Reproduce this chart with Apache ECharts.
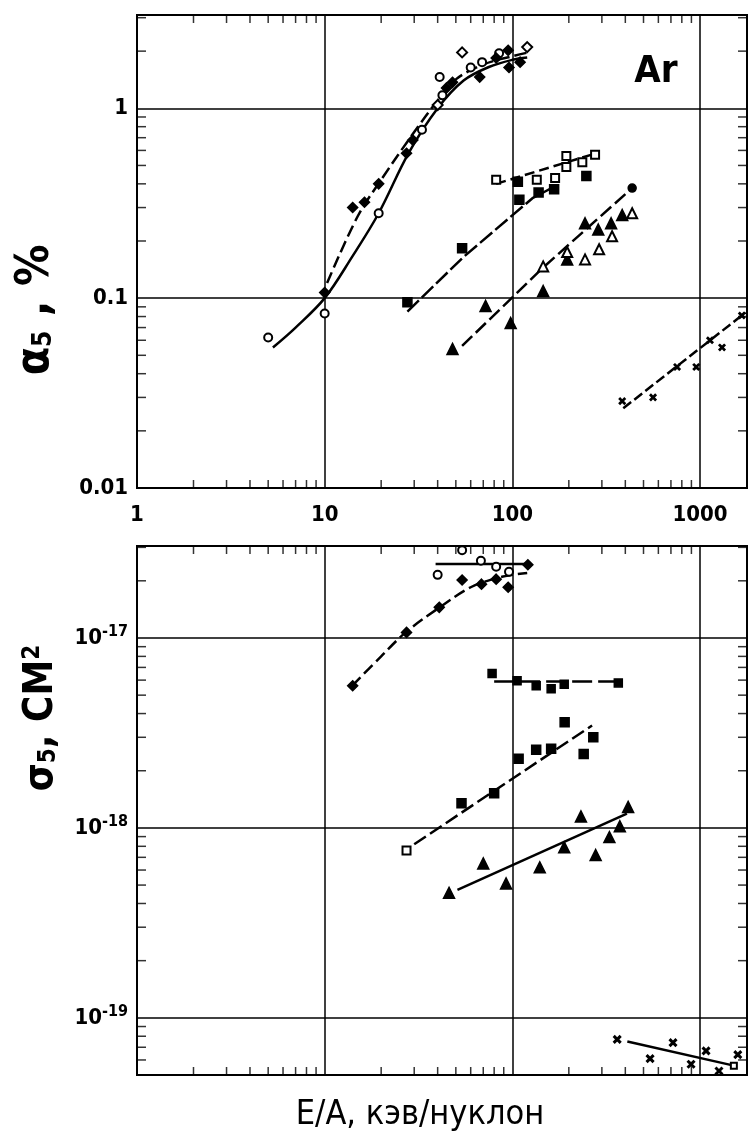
<!DOCTYPE html>
<html lang="ru">
<head>
<meta charset="UTF-8">
<title>Ar: α5 и σ5</title>
<script src="https://cdn.jsdelivr.net/npm/echarts@6/dist/echarts.min.js"></script>
</head>
<body style="margin:0;background:#fff">
<div id="main" style="width:751px;height:1143px"></div>
<script type="text/javascript">
    // ---- data (E/A in keV/nucleon) ----
    // upper panel: alpha5, %
    var aOpenCircle = [[5, 0.062], [10, 0.083], [19.4, 0.28], [33, 0.77], [42.4, 1.17], [41, 1.46], [60, 1.64], [69, 1.75], [85, 1.95]];
    var aFilledDia = [[10, 0.107], [14.1, 0.30], [16.3, 0.32], [19.4, 0.40], [27.3, 0.58], [29.5, 0.68], [44.6, 1.28], [48, 1.37], [67, 1.46], [82, 1.84], [96, 1.64], [95, 2.02], [110, 1.75]];
    var aOpenDia = [[40, 1.04], [54, 1.97], [120, 2.1]];
    var aCurveLower = [[5.3, 0.055], [7, 0.07], [10, 0.1], [14, 0.165], [19.4, 0.28], [28, 0.58], [40, 1.0], [55, 1.4], [75, 1.65], [100, 1.8], [120, 1.85]];
    var aCurveUpper = [[10.3, 0.12], [15, 0.27], [20, 0.42], [30, 0.75], [40, 1.1], [50, 1.42], [70, 1.7], [100, 1.88], [125, 1.98]];

    var aSqOpen = [[82, 0.42], [135, 0.42], [169, 0.43], [194, 0.56], [194, 0.49], [236, 0.52], [276, 0.57]];
    var aSqFilled = [[27.6, 0.095], [54, 0.183], [109, 0.33], [107, 0.41], [138, 0.36], [167, 0.375], [248, 0.44]];
    var aSqLineOpen = [[82, 0.40], [280, 0.58]];
    var aSqLineFilled = [[27.6, 0.085], [55, 0.165], [128, 0.336], [170, 0.39]];

    var aTriFilled = [[48, 0.054], [72, 0.091], [98, 0.074], [146, 0.109], [196, 0.16], [244, 0.248], [287, 0.23], [336, 0.248], [385, 0.274]];
    var aTriOpen = [[146, 0.147], [196, 0.175], [244, 0.16], [290, 0.181], [340, 0.212], [435, 0.28]];
    var aTriDot = [[435, 0.38]];
    var aTriLine = [[54, 0.056], [146, 0.145], [435, 0.38]];

    var aCross = [[385, 0.0287], [562, 0.030], [755, 0.0434], [955, 0.0434], [1130, 0.060], [1310, 0.055], [1670, 0.081]];
    var aCrossLine = [[390, 0.0263], [1750, 0.084]];

    // lower panel: sigma5, cm^2
    var sDiaFilled = [[14.1, 5.6e-18], [27.3, 1.07e-17], [40.8, 1.45e-17], [54, 2.02e-17], [68.5, 1.92e-17], [82, 2.04e-17], [95, 1.85e-17], [121, 2.43e-17]];
    var sOpen = [[40, 2.15e-17], [54, 2.9e-17], [68, 2.55e-17], [82, 2.37e-17], [96, 2.23e-17]];
    var sCurve = [[14, 5.6e-18], [20, 8e-18], [27, 1.07e-17], [41, 1.45e-17], [60, 1.85e-17], [80, 2.05e-17], [100, 2.15e-17], [120, 2.2e-17]];
    var sOpenLine = [[39, 2.45e-17], [120, 2.45e-17]];

    var sSqUpper = [[78, 6.5e-18], [106, 5.95e-18], [134, 5.6e-18], [161, 5.4e-18], [189, 5.7e-18], [367, 5.8e-18]];
    var sSqUpperLine = [[80, 5.9e-18], [370, 5.9e-18]];
    var sSqOpen = [[27.3, 7.6e-19]];
    var sSqFilled = [[53.6, 1.35e-18], [80, 1.52e-18], [108, 2.31e-18], [134, 2.58e-18], [161, 2.61e-18], [190, 3.6e-18], [240, 2.45e-18], [270, 3.0e-18]];
    var sSqLine = [[30, 8.2e-19], [266, 3.46e-18]];

    var sTri = [[46, 4.55e-19], [70, 6.5e-19], [92.6, 5.1e-19], [140, 6.2e-19], [189, 7.9e-19], [232, 1.15e-18], [278, 7.2e-19], [329, 8.95e-19], [374, 1.02e-18], [414, 1.29e-18]];
    var sTriLine = [[51, 4.72e-19], [408, 1.19e-18]];

    var sCross = [[362, 7.7e-20], [542, 6.1e-20], [718, 7.4e-20], [896, 5.7e-20], [1077, 6.7e-20], [1262, 5.25e-20], [1590, 6.4e-20]];
    var sCrossEnd = [[1515, 5.6e-20]];
    var sCrossLine = [[410, 7.5e-20], [1515, 5.6e-20]];

    // axis ranges and labels
    var xRange = [1, 1780];
    var aRange = [0.01, 3.1];
    var sRange = [5e-20, 3.05e-17];
    var xLabels = {'0': '1', '1': '10', '2': '100', '3': '1000'};
    var aLabels = {'-2': '0.01', '-1': '0.1', '0': '1'};
    var sLabels = {'-17': '-17', '-18': '-18', '-19': '-19'};

    var FONT = "'Liberation Sans Narrow', 'DejaVu Sans Condensed', 'DejaVu Sans', sans-serif";

    function lg(v) { return Math.round(Math.log(v) / Math.LN10); }
    function isDecade(v) {
        var l = Math.log(v) / Math.LN10;
        return Math.abs(l - Math.round(l)) < 1e-6;
    }

    // small inward ticks at 2..9 of each decade, on all four sides
    function minorTicks(xr, yr) {
        var out = [];
        var d, m, v;
        for (d = Math.floor(Math.log10(xr[0])); d <= Math.ceil(Math.log10(xr[1])); d++) {
            for (m = 2; m <= 9; m++) {
                v = m * Math.pow(10, d);
                if (v > xr[0] && v < xr[1]) {
                    out.push({value: [v, yr[0]], symbolSize: [1.5, 8], symbolOffset: [0, -4]});
                    out.push({value: [v, yr[1]], symbolSize: [1.5, 8], symbolOffset: [0, 4]});
                }
            }
        }
        for (d = Math.floor(Math.log10(yr[0])); d <= Math.ceil(Math.log10(yr[1])); d++) {
            for (m = 2; m <= 9; m++) {
                v = m * Math.pow(10, d);
                if (v > yr[0] && v < yr[1]) {
                    out.push({value: [xr[0], v], symbolSize: [9, 1.5], symbolOffset: [4.5, 0]});
                    out.push({value: [xr[1], v], symbolSize: [9, 1.5], symbolOffset: [-4.5, 0]});
                }
            }
        }
        return out;
    }

    var CROSS = 'path://M0,1.5L1.5,0L5,3.5L8.5,0L10,1.5L6.5,5L10,8.5L8.5,10L5,6.5L1.5,10L0,8.5L3.5,5Z';

    function pts(i, data, symbol, size) {
        return {
            type: 'scatter', xAxisIndex: i, yAxisIndex: i, data: data,
            symbol: symbol, symbolSize: size, z: 5,
            itemStyle: {color: '#000', borderColor: '#000', borderWidth: 1.5, opacity: 1}
        };
    }
    function line(i, data, dash, smooth) {
        return {
            type: 'line', xAxisIndex: i, yAxisIndex: i, data: data,
            symbol: 'none', smooth: smooth ? 0.35 : false, z: 4,
            lineStyle: {color: '#000', width: 2.5, type: dash || 'solid'}
        };
    }

    function xAxis(i, showLabels) {
        return {
            type: 'log', gridIndex: i, min: xRange[0], max: xRange[1], logBase: 10,
            axisLine: {show: true, lineStyle: {color: '#000', width: 2}},
            axisTick: {show: false},
            splitLine: {show: true, lineStyle: {color: '#000', width: 1.5}},
            axisLabel: {
                show: showLabels, margin: 16, color: '#000',
                fontFamily: FONT, fontWeight: 'bold', fontSize: 22,
                formatter: function (v) { return isDecade(v) ? (xLabels[lg(v)] || '') : ''; }
            }
        };
    }

    var myChart = echarts.init(document.getElementById('main'));

    var option = {
        animation: false,
        backgroundColor: '#fff',
        grid: [
            {left: 137, top: 15, width: 610, height: 473, show: true, borderColor: '#000', borderWidth: 2},
            {left: 137, top: 546, width: 610, height: 529, show: true, borderColor: '#000', borderWidth: 2}
        ],
        xAxis: [xAxis(0, true), xAxis(1, false)],
        yAxis: [
            {
                type: 'log', gridIndex: 0, min: aRange[0], max: aRange[1], logBase: 10,
                axisLine: {show: true, lineStyle: {color: '#000', width: 2}},
                axisTick: {show: false},
                splitLine: {show: true, lineStyle: {color: '#000', width: 1.5}},
                axisLabel: {
                    margin: 9, color: '#000', fontFamily: FONT, fontWeight: 'bold', fontSize: 22,
                    formatter: function (v) { return isDecade(v) ? (aLabels[lg(v)] || '') : ''; }
                }
            },
            {
                type: 'log', gridIndex: 1, min: sRange[0], max: sRange[1], logBase: 10,
                axisLine: {show: true, lineStyle: {color: '#000', width: 2}},
                axisTick: {show: false},
                splitLine: {show: true, lineStyle: {color: '#000', width: 1.5}},
                axisLabel: {
                    margin: 9, color: '#000', fontFamily: FONT, fontWeight: 'bold', fontSize: 22,
                    formatter: function (v) {
                        if (!isDecade(v) || !sLabels[lg(v)]) return '';
                        return '10{sup|' + sLabels[lg(v)] + '}';
                    },
                    rich: {
                        sup: {fontFamily: FONT, fontWeight: 'bold', fontSize: 16, verticalAlign: 'bottom', padding: [0, 0, 12, 0], color: '#000'}
                    }
                }
            }
        ],
        graphic: [
            {type: 'text', x: 36, y: 310, rotation: Math.PI / 2,
             style: {
                 text: '{a|α}{s|5}{a| , %}', fill: '#000', align: 'center', verticalAlign: 'middle',
                 rich: {
                     a: {font: 'bold 46px ' + FONT, fill: '#000'},
                     s: {font: 'bold 26px ' + FONT, fill: '#000', padding: [16, 0, 0, 0]}
                 }
             }},
            {type: 'text', x: 42, y: 718, rotation: Math.PI / 2,
             style: {
                 text: '{a|σ}{s|5}{a|, СМ}{p|2}', fill: '#000', align: 'center', verticalAlign: 'middle',
                 rich: {
                     a: {font: 'bold 40px ' + FONT, fill: '#000'},
                     s: {font: 'bold 24px ' + FONT, fill: '#000', padding: [14, 0, 0, 0]},
                     p: {font: 'bold 24px ' + FONT, fill: '#000', padding: [0, 0, 18, 0]}
                 }
             }},
            {type: 'text', x: 656, y: 72,
             style: {text: 'Ar', font: 'bold 38px ' + FONT, fill: '#000', align: 'center', verticalAlign: 'middle'}},
            {type: 'text', x: 420, y: 1115,
             style: {text: 'E/A, кэв/нуклон', font: '34px ' + FONT, fill: '#000', align: 'center', verticalAlign: 'middle'}}
        ],
        series: [
            // minor ticks
            {type: 'scatter', xAxisIndex: 0, yAxisIndex: 0, data: minorTicks(xRange, aRange), symbol: 'rect', clip: false, silent: true, itemStyle: {color: '#000'}},
            {type: 'scatter', xAxisIndex: 1, yAxisIndex: 1, data: minorTicks(xRange, sRange), symbol: 'rect', clip: false, silent: true, itemStyle: {color: '#000'}},

            // upper panel
            line(0, aCurveLower, 'solid', true),
            line(0, aCurveUpper, [12, 5], true),
            pts(0, aOpenCircle, 'emptyCircle', 8),
            pts(0, aFilledDia, 'diamond', 10),
            pts(0, aOpenDia, 'emptyDiamond', 10),

            line(0, aSqLineOpen, [10, 5]),
            line(0, aSqLineFilled, [16, 4]),
            pts(0, aSqOpen, 'emptyRect', 8),
            pts(0, aSqFilled, 'rect', 9),

            line(0, aTriLine, [14, 5]),
            pts(0, aTriFilled, 'triangle', 11),
            pts(0, aTriOpen, 'emptyTriangle', 10),
            pts(0, aTriDot, 'circle', 8),

            line(0, aCrossLine, [10, 4]),
            pts(0, aCross, CROSS, 6),

            // lower panel
            line(1, sCurve, [12, 5], true),
            line(1, sOpenLine, 'solid'),
            pts(1, sDiaFilled, 'diamond', 10),
            pts(1, sOpen, 'emptyCircle', 8),

            line(1, sSqUpperLine, [20, 6]),
            pts(1, sSqUpper, 'rect', 8),

            line(1, sSqLine, [14, 5]),
            pts(1, sSqOpen, 'emptyRect', 8),
            pts(1, sSqFilled, 'rect', 9),

            line(1, sTriLine, 'solid'),
            pts(1, sTri, 'triangle', 11),

            line(1, sCrossLine, 'solid'),
            pts(1, sCross, CROSS, 7),
            pts(1, sCrossEnd, 'emptyRect', 6)
        ]
    };

    myChart.setOption(option);
</script>
</body>
</html>
